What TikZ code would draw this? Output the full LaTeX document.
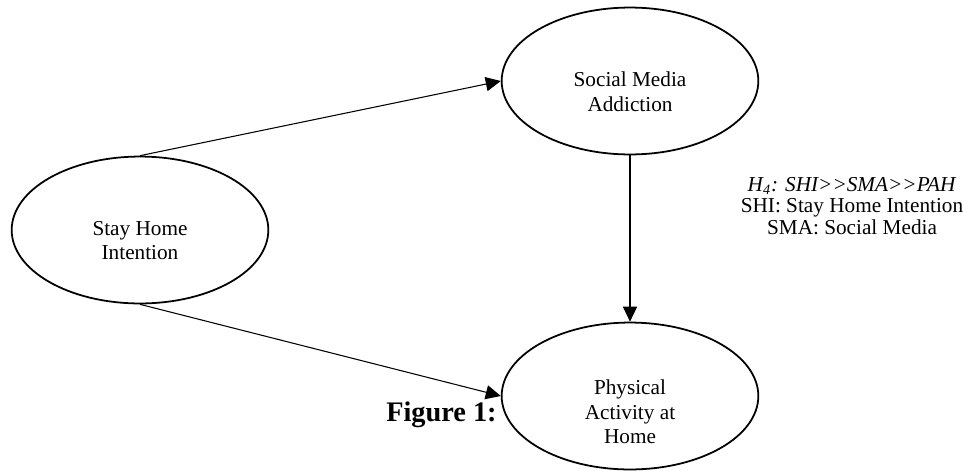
\documentclass[tikz,border=0pt]{standalone}
\usepackage{fontspec}
\setmainfont{Liberation Serif}
\usetikzlibrary{shapes.geometric,arrows.meta}

\begin{document}
\begin{tikzpicture}[x=0.565pt,y=-0.565pt,
    ell/.style={ellipse,draw,line width=1pt,fill=white,inner sep=0pt,
      minimum width=145pt,minimum height=83pt},
    txt/.style={align=center,font=\fontsize{12}{13.8}\selectfont}]

        \useasboundingbox (0,0) rectangle (963,470);

        \node (fig) [anchor=west,font=\fontsize{16}{19}\selectfont\bfseries] at (380,415) {Figure 1:};

        \begin{scope}[every node/.style={ell}]
          \node (1) at (140,230) {};
          \node (2) at (630,81)  {};
          \node (3) at (630,396) {};
        \end{scope}

        \begin{scope}[every node/.style={txt}]
          \node (1t) at ([yshift=-6pt]1.center) {Stay Home\\Intention};
          \node (2t) at ([yshift=-6pt]2.center) {Social Media\\Addiction};
          \node (3t) at ([yshift=-9pt]3.center) {Physical\\Activity at\\Home};
          \node (notes) [font=\fontsize{12}{12.2}\selectfont] at (852,206)
            {\textit{H\textsubscript{4}: SHI>{}>SMA>{}>PAH}\\SHI: Stay Home Intention\\SMA: Social Media};
        \end{scope}

        \begin{scope}[every edge/.style={draw,line width=0.6pt,-{Triangle[length=8.5pt,width=8pt]}}]
          \path (1.north) edge (2.west);
          \path (1.south) edge (3.west);
          \path (2.south) edge (3.north);
        \end{scope}

      \end{tikzpicture}
\end{document}
